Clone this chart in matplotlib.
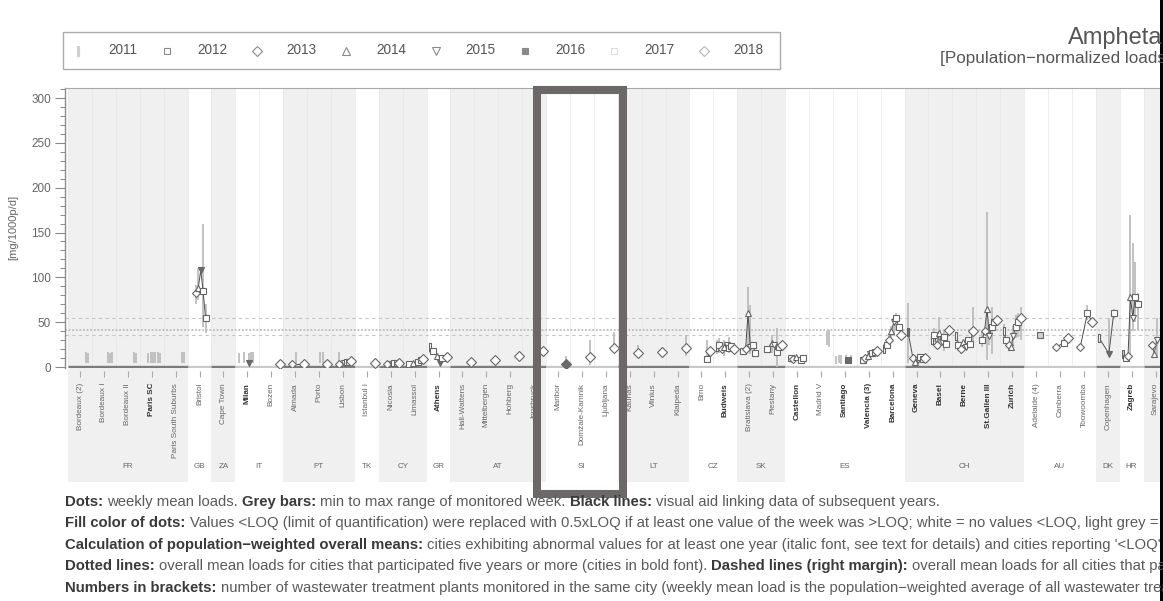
import matplotlib
matplotlib.use("Agg")
import matplotlib.pyplot as plt
from matplotlib.patches import Rectangle
from matplotlib.ticker import MultipleLocator

plt.rcParams['font.family'] = ['Liberation Sans', 'DejaVu Sans']

W, H, DPI = 1163, 601, 100

# ---------------------------------------------------------------- cities
countries = ["FR", "GB", "ZA", "IT", "PT", "TK", "CY", "GR", "AT", "SI",
             "LT", "CZ", "SK", "ES", "CH", "AU", "DK", "HR", "BA"]
country_cities = [
    ["Bordeaux (2)", "Bordeaux I", "Bordeaux II", "Paris SC", "Paris South Suburbs"],
    ["Bristol"],
    ["Cape Town"],
    ["Milan", "Bozen"],
    ["Almada", "Porto", "Lisbon"],
    ["Istanbul I"],
    ["Nicosia", "Limassol"],
    ["Athens"],
    ["Hall-Wattens", "Mittelbergen", "Hohberg", "Innsbruck"],
    ["Maribor", "Domžale-Kamnik", "Ljubljana"],
    ["Kaunas", "Vilnius", "Klaipeda"],
    ["Brno", "Budweis"],
    ["Bratislava (2)", "Piestany"],
    ["Castellon", "Madrid V", "Santiago", "Valencia (3)", "Barcelona"],
    ["Geneva", "Basel", "Berne", "St.Gallen III", "Zurich"],
    ["Adelaide (4)", "Canberra", "Toowoomba"],
    ["Copenhagen"],
    ["Zagreb"],
    ["Sarajevo", "Mostar"],
]
bold_cities = {"Paris SC", "Milan", "Athens", "Budweis", "Castellon", "Santiago",
               "Valencia (3)", "Barcelona", "Geneva", "Basel", "Berne",
               "St.Gallen III", "Zurich", "Zagreb"}

years = [2011, 2012, 2013, 2014, 2015, 2016, 2017, 2018]

# ------------------------------------------------- weekly mean loads
mean_2011 = {"Athens": 22, "Budweis": 22, "Barcelona": 20, "Geneva": 39, "Basel": 30,
             "Berne": 35, "Zurich": 40, "Copenhagen": 32, "Zagreb": 14}
mean_2012 = {"Limassol": 3, "Athens": 18, "Budweis": 24, "Bratislava (2)": 18,
             "Piestany": 20, "Castellon": 10, "Valencia (3)": 8, "Barcelona": 25,
             "Basel": 36, "Berne": 24, "St.Gallen III": 30, "Zurich": 30, "Zagreb": 10}
mean_2013 = {"Bristol": 82, "Almada": 3, "Lisbon": 3, "Nicosia": 3, "Budweis": 20,
             "Bratislava (2)": 20, "Castellon": 9, "Valencia (3)": 10, "Barcelona": 30,
             "Geneva": 10, "Basel": 24, "Berne": 20, "St.Gallen III": 40, "Zurich": 25,
             "Canberra": 22, "Toowoomba": 22, "Zagreb": 12, "Sarajevo": 25}
mean_2014 = {"Bristol": 88, "Limassol": 4, "Athens": 12, "Budweis": 22,
             "Bratislava (2)": 60, "Piestany": 27, "Castellon": 11, "Valencia (3)": 12,
             "Barcelona": 40, "Geneva": 6, "Basel": 38, "Berne": 28, "St.Gallen III": 65,
             "Zurich": 22, "Zagreb": 78, "Sarajevo": 15}
mean_2015 = {"Bristol": 108, "Milan": 4, "Lisbon": 5, "Nicosia": 3, "Athens": 5,
             "Budweis": 25, "Bratislava (2)": 22, "Piestany": 25, "Valencia (3)": 14,
             "Barcelona": 50, "Geneva": 8, "Basel": 28, "Berne": 22, "St.Gallen III": 35,
             "Zurich": 35, "Copenhagen": 15, "Zagreb": 55, "Sarajevo": 30}
mean_2016 = {"Bristol": 85, "Lisbon": 6, "Nicosia": 4, "Limassol": 6, "Athens": 10,
             "Budweis": 21, "Bratislava (2)": 25, "Piestany": 17, "Castellon": 8,
             "Santiago": 8, "Valencia (3)": 16, "Barcelona": 55, "Geneva": 11,
             "Basel": 34, "Berne": 30, "St.Gallen III": 45, "Zurich": 45,
             "Adelaide (4)": 36, "Canberra": 27, "Toowoomba": 60, "Zagreb": 78}
mean_2017 = {"Bristol": 55, "Lisbon": 6, "Nicosia": 5, "Limassol": 8, "Brno": 9,
             "Budweis": 23, "Bratislava (2)": 16, "Piestany": 22, "Castellon": 10,
             "Valencia (3)": 17, "Barcelona": 45, "Geneva": 9, "Basel": 26, "Berne": 26,
             "St.Gallen III": 50, "Zurich": 50, "Copenhagen": 60, "Zagreb": 70}
mean_2018 = {"Bozen": 3, "Almada": 3, "Porto": 3, "Lisbon": 7, "Istanbul I": 4,
             "Nicosia": 5, "Limassol": 9, "Athens": 11, "Hall-Wattens": 6,
             "Mittelbergen": 8, "Hohberg": 12, "Innsbruck": 18, "Maribor": 3,
             "Domžale-Kamnik": 11, "Ljubljana": 21, "Kaunas": 16, "Vilnius": 17,
             "Klaipeda": 21, "Brno": 18, "Budweis": 20, "Piestany": 24,
             "Valencia (3)": 18, "Barcelona": 36, "Geneva": 10, "Basel": 41,
             "Berne": 40, "St.Gallen III": 52, "Zurich": 55, "Canberra": 32,
             "Toowoomba": 50}

# ------------------------------------------- min / max of monitored week
range_2011 = {"Milan": (5, 16), "Athens": (16, 26), "Budweis": (14, 30),
              "Santiago": (3, 12), "Barcelona": (14, 26), "Geneva": (5, 71),
              "Zurich": (30, 48), "Zagreb": (10, 18)}
range_2012 = {"Budweis": (16, 32), "Santiago": (4, 13), "Castellon": (4, 13),
              "Basel": (28, 44), "Berne": (18, 30), "St.Gallen III": (22, 40)}
range_2013 = {"Paris SC": (5, 16), "Milan": (5, 17), "Bristol": (70, 92),
              "Lisbon": (4, 17), "Santiago": (3, 13), "Barcelona": (24, 36),
              "Berne": (14, 28), "Zurich": (18, 32)}
range_2014 = {"Paris SC": (4, 17), "Bristol": (75, 110), "Budweis": (12, 30),
              "Bratislava (2)": (20, 89), "Piestany": (16, 36), "Barcelona": (30, 46),
              "Basel": (20, 56), "St.Gallen III": (8, 173), "Zagreb": (15, 170)}
range_2015 = {"Paris SC": (5, 17), "Milan": (5, 16), "Almada": (2, 17),
              "Porto": (5, 17), "Bratislava (2)": (15, 69), "Santiago": (3, 13),
              "Barcelona": (36, 54), "St.Gallen III": (25, 45), "Zurich": (25, 46),
              "Copenhagen": (12, 55), "Zagreb": (40, 138), "Sarajevo": (10, 55)}
range_2016 = {"Bordeaux I": (4, 17), "Paris SC": (4, 17), "Milan": (5, 17),
              "Bristol": (45, 160), "Porto": (5, 17), "Budweis": (16, 34),
              "Piestany": (0, 43), "Barcelona": (40, 60), "Basel": (18, 40),
              "St.Gallen III": (15, 67), "Zurich": (32, 58), "Toowoomba": (52, 69),
              "Zagreb": (50, 117)}
range_2017 = {"Bordeaux (2)": (4, 17), "Bordeaux I": (5, 16), "Bordeaux II": (4, 17),
              "Paris SC": (5, 17), "Paris South Suburbs": (4, 17), "Milan": (5, 17),
              "Bristol": (38, 70), "Brno": (6, 30), "Madrid V": (24, 40),
              "Santiago": (3, 13), "Zurich": (34, 60), "Copenhagen": (55, 65),
              "Zagreb": (41, 82)}
range_2018 = {"Bordeaux (2)": (5, 16), "Bordeaux I": (4, 17), "Bordeaux II": (5, 16),
              "Paris SC": (4, 16), "Paris South Suburbs": (5, 17), "Maribor": (1, 12),
              "Domžale-Kamnik": (2, 30), "Ljubljana": (18, 39), "Kaunas": (10, 25),
              "Klaipeda": (12, 36), "Madrid V": (22, 41), "Berne": (25, 67),
              "Zurich": (30, 67)}

# weeks with values <LOQ (fill colour of the dot)
loq_fill = {("Bristol", 2015): "dark", ("Milan", 2015): "dark", ("Athens", 2015): "dark",
            ("Maribor", 2018): "dark", ("Santiago", 2016): "dark",
            ("Geneva", 2011): "dark", ("Copenhagen", 2015): "dark",
            ("Zagreb", 2011): "light", ("Adelaide (4)", 2016): "light"}

# overall mean loads (horizontal reference lines)
mean_all_dashed_hi = 55
mean_five_years_dotted = 41
mean_all_dashed_lo = 36

means = dict(zip(years, [mean_2011, mean_2012, mean_2013, mean_2014,
                         mean_2015, mean_2016, mean_2017, mean_2018]))
ranges = dict(zip(years, [range_2011, range_2012, range_2013, range_2014,
                          range_2015, range_2016, range_2017, range_2018]))

# ---------------------------------------------------------------- styles
narrow_bar = [(-0.3, -1), (0.3, -1), (0.3, 1), (-0.3, 1), (-0.3, -1)]
year_marker = {2011: narrow_bar, 2012: 's', 2013: 'D', 2014: '^', 2015: 'v',
               2016: 's', 2017: 's', 2018: 'D'}
year_ms = {2011: 6, 2012: 4.0, 2013: 4.4, 2014: 5, 2015: 5, 2016: 4.0, 2017: 4.0, 2018: 4.6}
legend_face = {2011: '#cfcfcf', 2016: '#8a8a8a'}
legend_edge = {2011: '#cfcfcf', 2016: '#8a8a8a', 2017: '#dedede', 2018: '#b5b5b5'}
fill_colour = {"dark": '#6a6a6a', "light": '#cfcfcf'}
year_step = 2.4 / 23.9          # horizontal offset of consecutive years

all_cities = [c for grp in country_cities for c in grp]
pos = {c: i for i, c in enumerate(all_cities)}

fig = plt.figure(figsize=(W / DPI, H / DPI), dpi=DPI)
fig.patch.set_facecolor('white')


def frame(l, t, r, b):
    return [l / W, 1 - b / H, (r - l) / W, (b - t) / H]


X0, X1 = -15 / 23.9, 1219 / 23.9
ax = fig.add_axes(frame(65, 88, 1299, 368))
lab = fig.add_axes(frame(65, 368, 1299, 482))
ov = fig.add_axes([0, 0, 1, 1], zorder=10)
ov.set_xlim(0, W)
ov.set_ylim(H, 0)
ov.axis('off')

ax.set_xlim(X0, X1)
ax.set_ylim(-1.1, 311.2)
lab.set_xlim(X0, X1)
lab.set_ylim(114, 0)
lab.axis('off')

# country bands
start = 0
for k, (cc, grp) in enumerate(zip(countries, country_cities)):
    s, e = start - 0.5, start + len(grp) - 0.5
    shaded = (k % 2 == 0)
    if shaded:
        ax.axvspan(s, e, color='#f0f0f0', lw=0, zorder=0)
        lab.axvspan(s, e, color='#f0f0f0', lw=0, zorder=0)
    ax.hlines(0, s, e, color='#7c7c7c' if shaded else '#c9c9c9', lw=2.4, zorder=1.5)
    lab.text((s + e) / 2, 99, cc, ha='center', va='center', fontsize=5.8, color='#666')
    start += len(grp)

for i in range(len(all_cities) + 1):
    ax.axvline(i - 0.5, color='#e7e7e7', lw=0.5, zorder=0.5)

# city ticks and labels
for c, i in pos.items():
    lab.vlines(i, 3, 9, color='#aaaaaa', lw=0.8)
    lab.text(i, 15, c, rotation=90, ha='center', va='top', fontsize=5.9,
             color='#333' if c in bold_cities else '#666',
             fontweight='bold' if c in bold_cities else 'normal')

# overall means
ax.axhline(mean_all_dashed_hi, color='#c6c6c6', lw=0.8, ls=(0, (3, 3)), zorder=1)
ax.axhline(mean_five_years_dotted, color='#bcbcbc', lw=1.3, ls=(0, (1, 1)), zorder=1)
ax.axhline(mean_all_dashed_lo, color='#c6c6c6', lw=0.8, ls=(0, (3, 3)), zorder=1)


def xoff(city, year):
    return pos[city] + (year - 2014.5) * year_step


# grey bars: min to max range
for y in years:
    for c, (lo, hi) in ranges[y].items():
        ax.vlines(xoff(c, y), lo, hi, color='#bdbdbd', lw=1.3, zorder=2)

# black lines linking subsequent years, then the dots
for c in all_cities:
    pts = [(xoff(c, y), means[y][c]) for y in years if c in means[y]]
    if len(pts) > 1:
        ax.plot([p[0] for p in pts], [p[1] for p in pts], color='#505050', lw=0.7, zorder=3)
for y in years:
    for c, v in means[y].items():
        f = loq_fill.get((c, y))
        ax.plot(xoff(c, y), v, ls='none', marker=year_marker[y], ms=year_ms[y],
                mfc=fill_colour[f] if f else 'white', mec='#666666', mew=0.8, zorder=4)

# axes cosmetics
ax.set_facecolor('white')
for sp in ('right', 'bottom'):
    ax.spines[sp].set_visible(False)
ax.spines['top'].set_color('#a8a8a8')
ax.spines['top'].set_linewidth(0.8)
ax.spines['left'].set_color('#8a8a8a')
ax.spines['left'].set_linewidth(1.0)
ax.set_xticks([])
ax.yaxis.set_major_locator(MultipleLocator(50))
ax.yaxis.set_minor_locator(MultipleLocator(10))
ax.tick_params(axis='y', which='major', length=7, width=0.8, color='#8a8a8a',
               labelsize=8.5, labelcolor='#666666', pad=3)
ax.tick_params(axis='y', which='minor', length=3.5, width=0.7, color='#8a8a8a')
ax.set_ylim(-1.1, 311.2)

# ---------------------------------------------------------------- overlay
ov.text(13, 227, "[mg/1000p/d]", rotation=90, ha='center', va='center',
        fontsize=8, color='#666')

ov.add_patch(Rectangle((63, 32), 717, 37, fill=False, ec='#ababab', lw=1.0))
for k, y in enumerate(years):
    mx = 78 + 89.4 * k
    ov.plot(mx, 50.5, ls='none', marker=year_marker[y], ms=year_ms[y] + 0.6,
            mfc=legend_face.get(y, 'white'), mec=legend_edge.get(y, '#8a8a8a'), mew=0.8)
    ov.text(mx + 30, 50.5, str(y), ha='left', va='center', fontsize=9.8, color='#555')

ov.text(1068, 38, "Amphetamine", ha='left', va='center', fontsize=17, color='#555')
ov.text(940, 59, "[Population\u2212normalized loads]", ha='left', va='center',
        fontsize=12.3, color='#555')

notes = [
    [("Dots:", True), ("weekly mean loads.", False), ("Grey bars:", True),
     ("min to max range of monitored week.", False), ("Black lines:", True),
     ("visual aid linking data of subsequent years.", False)],
    [("Fill color of dots:", True),
     ("Values <LOQ (limit of quantification) were replaced with 0.5xLOQ if at least one "
      "value of the week was >LOQ; white = no values <LOQ, light grey = 1 to 3 values <LOQ, "
      "dark grey = 4 or more values <LOQ.", False)],
    [("Calculation of population\u2212weighted overall means:", True),
     ("cities exhibiting abnormal values for at least one year (italic font, see text for "
      "details) and cities reporting '<LOQ' for all days were excluded.", False)],
    [("Dotted lines:", True),
     ("overall mean loads for cities that participated five years or more (cities in bold "
      "font).", False), ("Dashed lines (right margin):", True),
     ("overall mean loads for all cities that participated in the respective year.", False)],
    [("Numbers in brackets:", True),
     ("number of wastewater treatment plants monitored in the same city (weekly mean load "
      "is the population\u2212weighted average of all wastewater treatment plants).", False)],
]

NOTE_FS = 10.7
renderer = fig.canvas.get_renderer()
probe1 = ov.text(0, -50, "n n", fontsize=NOTE_FS)
probe2 = ov.text(0, -50, "nn", fontsize=NOTE_FS)
space_w = (probe1.get_window_extent(renderer).width
           - probe2.get_window_extent(renderer).width)
probe1.remove()
probe2.remove()

for row, parts in enumerate(notes):
    x = 65
    yy = 502 + 21.4 * row
    for txt, bold in parts:
        t = ov.text(x, yy, txt, ha='left', va='center', fontsize=NOTE_FS,
                    fontweight='bold' if bold else 'normal',
                    color='#3a3a3a' if bold else '#5a5a5a')
        x += t.get_window_extent(renderer).width + space_w

# highlight frame around the SI group
ov.add_patch(Rectangle((537, 90), 86, 404, fill=False, ec='#6c6868', lw=5.8))
# dark right edge
ov.add_patch(Rectangle((1160, 0), 4, H, fc='black', ec='none'))

fig.savefig("out.png", dpi=DPI)
